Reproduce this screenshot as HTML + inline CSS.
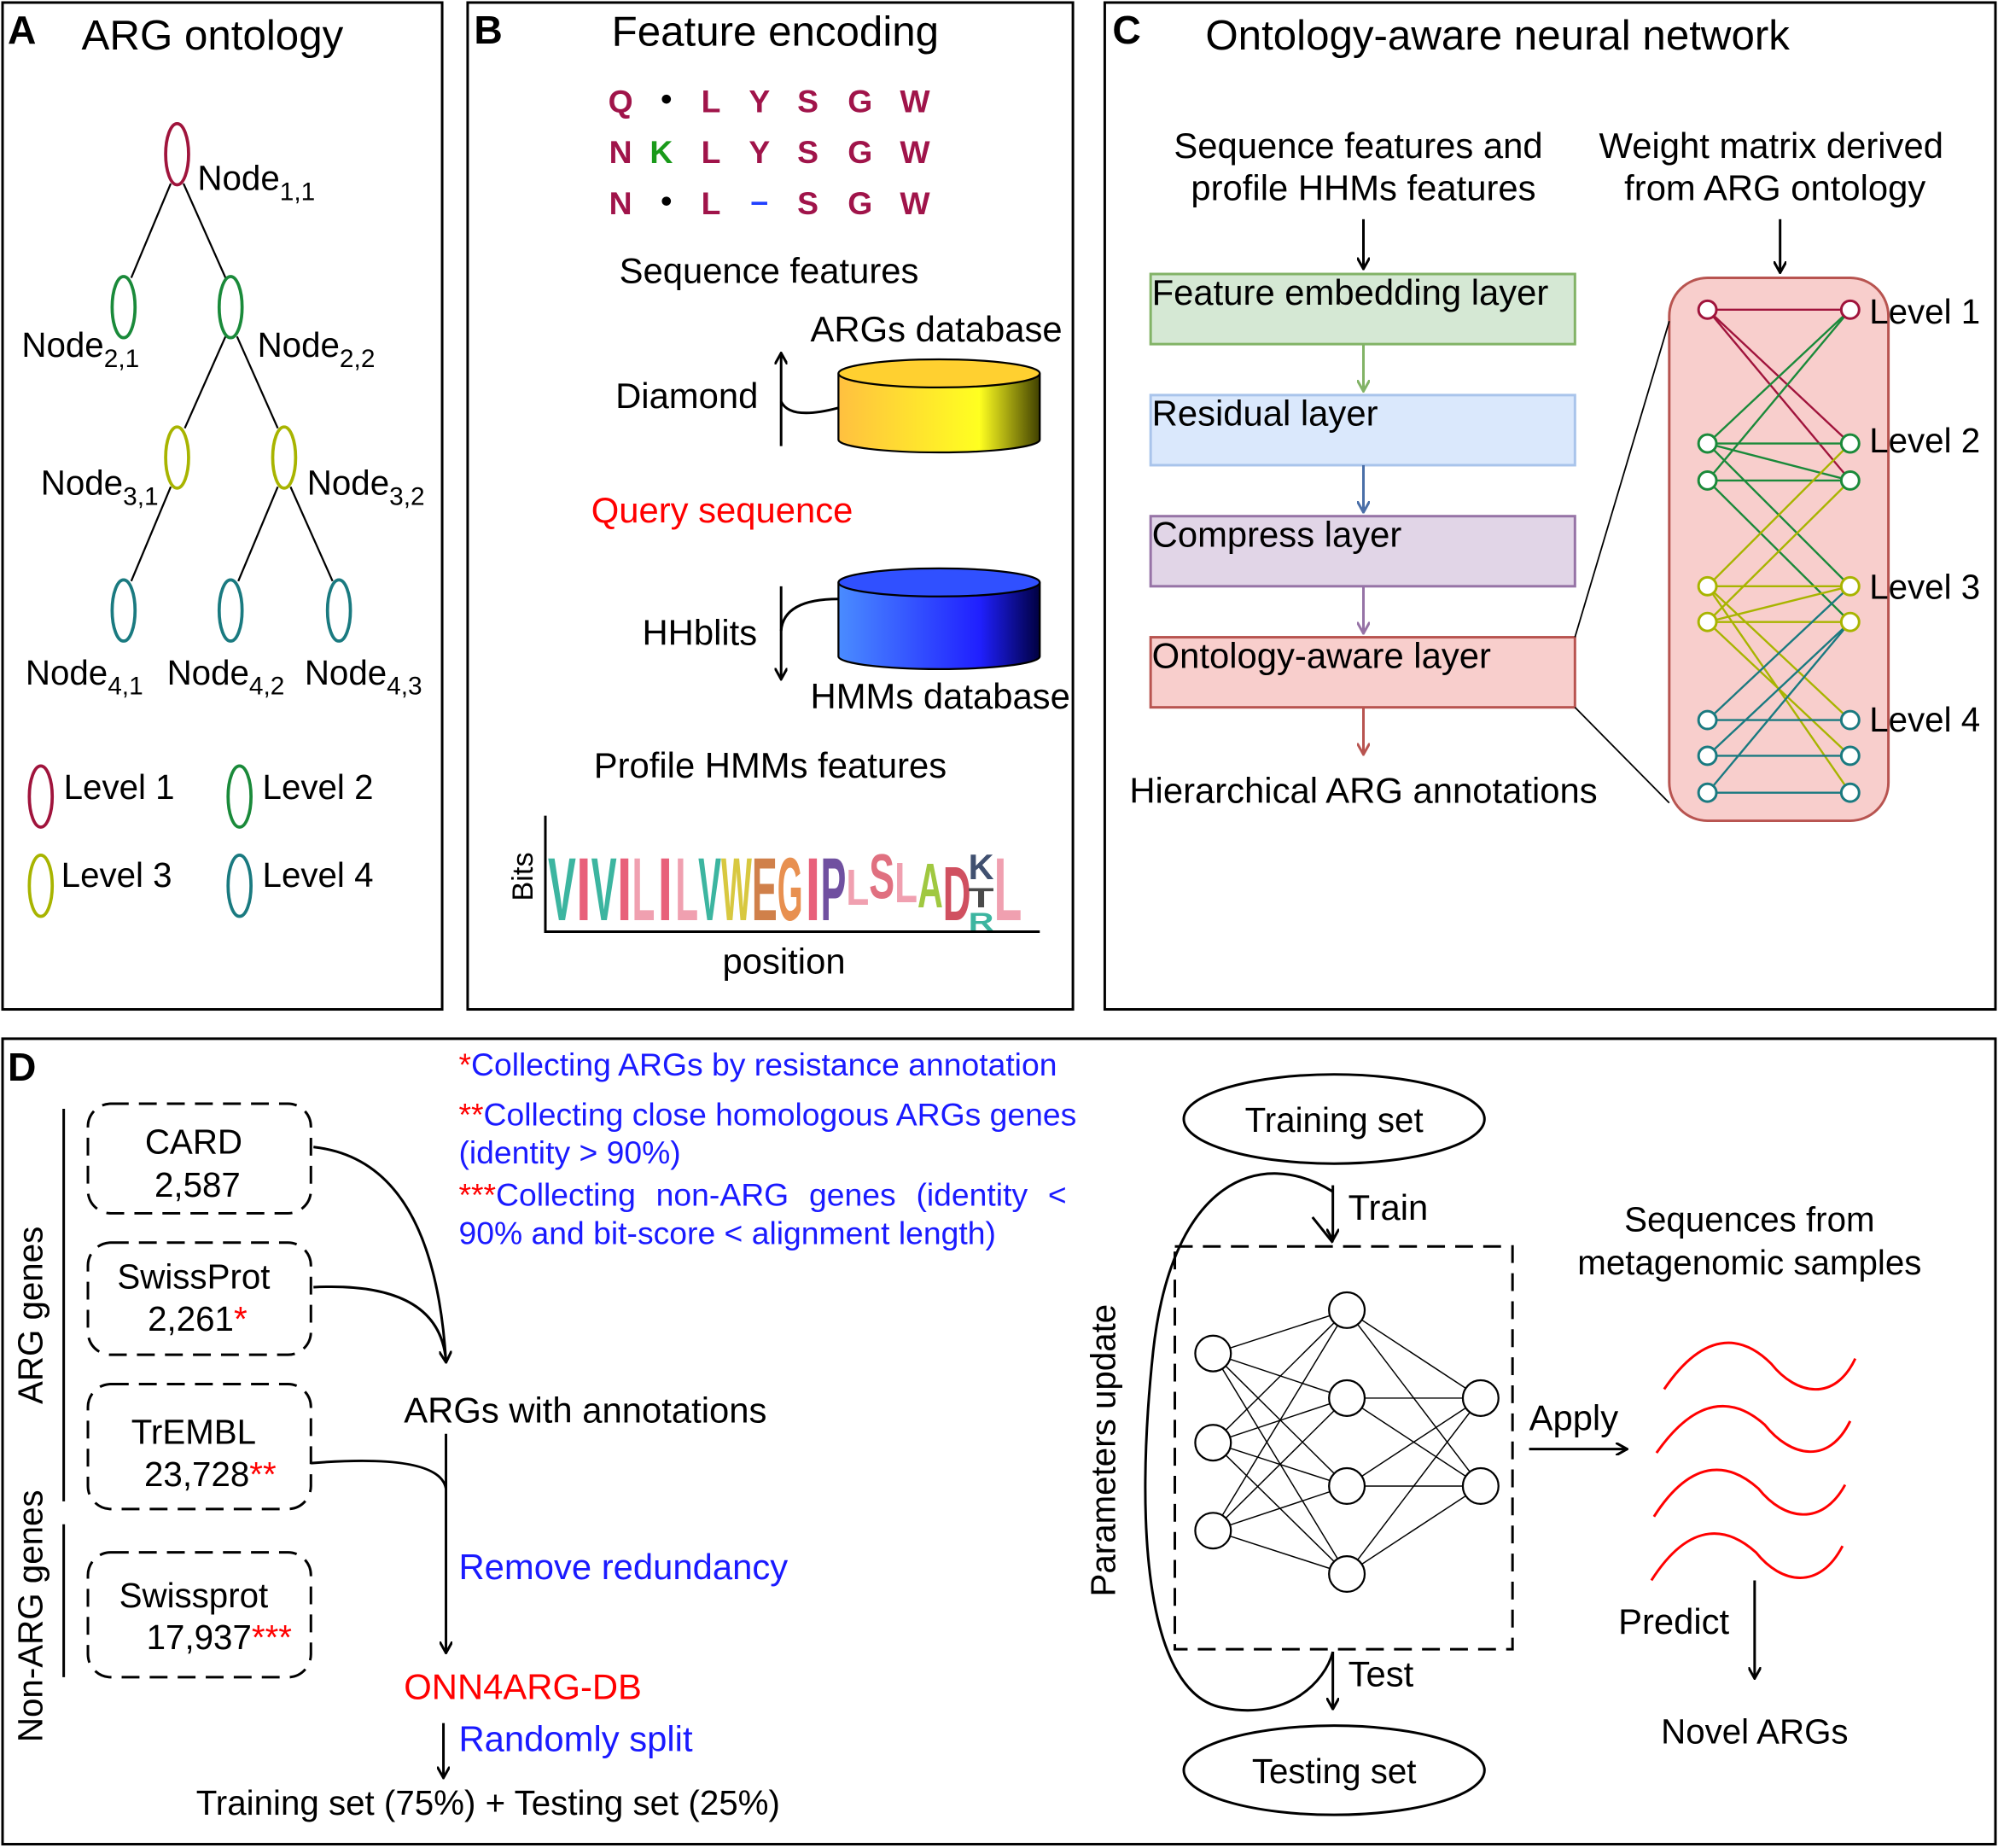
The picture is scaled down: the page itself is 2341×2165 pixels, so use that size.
<!DOCTYPE html>
<html><head><meta charset="utf-8"><style>
html,body{margin:0;padding:0;background:#fff}
svg{display:block}
text{font-family:"Liberation Sans",sans-serif}
</style></head><body>
<svg width="2341" height="2165" viewBox="0 0 1568 1450" preserveAspectRatio="none" xmlns="http://www.w3.org/2000/svg">
<defs>
<marker id="ar" markerWidth="10" markerHeight="10" refX="8" refY="5" orient="auto" markerUnits="userSpaceOnUse"><path d="M0,0 L9,5 L0,10" fill="none" stroke="#000" stroke-width="2"/></marker>
<marker id="arg" markerWidth="10" markerHeight="10" refX="8" refY="5" orient="auto" markerUnits="userSpaceOnUse"><path d="M0,0 L9,5 L0,10" fill="none" stroke="#82b366" stroke-width="2"/></marker>
<marker id="arb" markerWidth="10" markerHeight="10" refX="8" refY="5" orient="auto" markerUnits="userSpaceOnUse"><path d="M0,0 L9,5 L0,10" fill="none" stroke="#4a6fa8" stroke-width="2"/></marker>
<marker id="arp" markerWidth="10" markerHeight="10" refX="8" refY="5" orient="auto" markerUnits="userSpaceOnUse"><path d="M0,0 L9,5 L0,10" fill="none" stroke="#9673a6" stroke-width="2"/></marker>
<marker id="arr" markerWidth="10" markerHeight="10" refX="8" refY="5" orient="auto" markerUnits="userSpaceOnUse"><path d="M0,0 L9,5 L0,10" fill="none" stroke="#b85450" stroke-width="2"/></marker>
<linearGradient id="gy" x1="0" x2="1"><stop offset="0" stop-color="#ffc040"/><stop offset="0.7" stop-color="#ffff20"/><stop offset="1" stop-color="#404000"/></linearGradient>
<linearGradient id="gb" x1="0" x2="1"><stop offset="0" stop-color="#4a8cff"/><stop offset="0.7" stop-color="#2020ff"/><stop offset="1" stop-color="#000040"/></linearGradient>
</defs>
<g fill="none" stroke="#000" stroke-width="2">
<rect x="2" y="2" width="345" height="790"/>
<rect x="367" y="2" width="475" height="790"/>
<rect x="867" y="2" width="699" height="790"/>
<rect x="2" y="815" width="1564" height="632"/>
</g>
<g font-size="31" font-weight="bold"><text x="6" y="34">A</text><text x="372" y="34">B</text><text x="873" y="34">C</text><text x="6" y="848">D</text></g>
<g font-size="33"><text x="64" y="39">ARG ontology</text><text x="480" y="36">Feature encoding</text><text x="946" y="39">Ontology-aware neural network</text></g>

<!-- Panel A -->
<g stroke="#000" stroke-width="1.5">
<line x1="134" y1="144" x2="103" y2="218"/><line x1="144" y1="144" x2="177" y2="218"/>
<line x1="177" y1="264" x2="145" y2="336"/><line x1="186" y1="264" x2="218" y2="336"/>
<line x1="134" y1="382" x2="103" y2="456"/><line x1="218" y1="382" x2="187" y2="456"/><line x1="228" y1="382" x2="261" y2="456"/>
</g>
<g fill="#fff" stroke-width="2.5">
<ellipse cx="139" cy="121" rx="9" ry="24" stroke="#a0143c"/>
<ellipse cx="97" cy="241" rx="9" ry="24" stroke="#1a8a3a"/><ellipse cx="181" cy="241" rx="9" ry="24" stroke="#1a8a3a"/>
<ellipse cx="139" cy="359" rx="9" ry="24" stroke="#a8b400"/><ellipse cx="223" cy="359" rx="9" ry="24" stroke="#a8b400"/>
<ellipse cx="97" cy="479" rx="9" ry="24" stroke="#1a7a80"/><ellipse cx="181" cy="479" rx="9" ry="24" stroke="#1a7a80"/><ellipse cx="266" cy="479" rx="9" ry="24" stroke="#1a7a80"/>
<ellipse cx="32" cy="625" rx="9" ry="24" stroke="#a0143c"/><ellipse cx="188" cy="625" rx="9" ry="24" stroke="#1a8a3a"/>
<ellipse cx="32" cy="695" rx="9" ry="24" stroke="#a8b400"/><ellipse cx="188" cy="695" rx="9" ry="24" stroke="#1a7a80"/>
</g>
<g font-size="27">
<text x="155" y="149">Node<tspan font-size="20" dy="8">1,1</tspan></text>
<text x="17" y="280">Node<tspan font-size="20" dy="8">2,1</tspan></text>
<text x="202" y="280">Node<tspan font-size="20" dy="8">2,2</tspan></text>
<text x="32" y="388">Node<tspan font-size="20" dy="8">3,1</tspan></text>
<text x="241" y="388">Node<tspan font-size="20" dy="8">3,2</tspan></text>
<text x="20" y="537">Node<tspan font-size="20" dy="8">4,1</tspan></text>
<text x="131" y="537">Node<tspan font-size="20" dy="8">4,2</tspan></text>
<text x="239" y="537">Node<tspan font-size="20" dy="8">4,3</tspan></text>
<text x="50" y="627">Level 1</text><text x="206" y="627">Level 2</text>
<text x="48" y="696">Level 3</text><text x="206" y="696">Level 4</text>
</g>

<!-- Panel B -->
<g font-size="25" font-weight="bold" fill="#a0144a" text-anchor="middle">
<text x="487" y="88">Q</text><text x="523" y="86" fill="#000">•</text><text x="558" y="88">L</text><text x="596" y="88">Y</text><text x="634" y="88">S</text><text x="675" y="88">G</text><text x="718" y="88">W</text>
<text x="487" y="128">N</text><text x="519" y="128" fill="#1a9a1a">K</text><text x="558" y="128">L</text><text x="596" y="128">Y</text><text x="634" y="128">S</text><text x="675" y="128">G</text><text x="718" y="128">W</text>
<text x="487" y="168">N</text><text x="523" y="166" fill="#000">•</text><text x="558" y="168">L</text><text x="596" y="166" fill="#2040ff">–</text><text x="634" y="168">S</text><text x="675" y="168">G</text><text x="718" y="168">W</text>
</g>
<g font-size="28">
<text x="486" y="222">Sequence features</text>
<text x="636" y="268">ARGs database</text>
<text x="483" y="320">Diamond</text>
<text x="464" y="410" fill="#ff0000">Query sequence</text>
<text x="504" y="506">HHblits</text>
<text x="636" y="556">HMMs database</text>
<text x="466" y="610">Profile HMMs features</text>
<text x="567" y="764">position</text>
<text x="0" y="0" transform="translate(418,707) rotate(-90)" font-size="23">Bits</text>
</g>
<path d="M658,293 V345 A79,10 0 0 0 816,345 V293" fill="url(#gy)" stroke="#000" stroke-width="1.5"/>
<ellipse cx="737" cy="293" rx="79" ry="11" fill="#ffd030" stroke="#000" stroke-width="1.5"/>
<path d="M658,457 V515 A79,10 0 0 0 816,515 V457" fill="url(#gb)" stroke="#000" stroke-width="1.5"/>
<ellipse cx="737" cy="457" rx="79" ry="11" fill="#3050ff" stroke="#000" stroke-width="1.5"/>
<g fill="none" stroke="#000" stroke-width="2">
<line x1="613" y1="350" x2="613" y2="278" marker-end="url(#ar)"/>
<path d="M613,315 Q620,330 658,320"/>
<line x1="613" y1="460" x2="613" y2="532" marker-end="url(#ar)"/>
<path d="M613,495 Q615,470 658,470"/>
<path d="M428,640 V731 H816"/>
</g>
<g font-family="Liberation Sans" font-weight="bold" font-size="70">
<text x="430" y="722" fill="#3cb5a0" textLength="22" lengthAdjust="spacingAndGlyphs">V</text>
<text x="452" y="722" fill="#e8607a" textLength="12" lengthAdjust="spacingAndGlyphs">I</text>
<text x="464" y="722" fill="#3cb5a0" textLength="20" lengthAdjust="spacingAndGlyphs">V</text>
<text x="484" y="722" fill="#e8607a" textLength="12" lengthAdjust="spacingAndGlyphs">I</text>
<text x="496" y="722" fill="#f0a0b0" textLength="18" lengthAdjust="spacingAndGlyphs">L</text>
<text x="516" y="722" fill="#e8607a" textLength="12" lengthAdjust="spacingAndGlyphs">I</text>
<text x="530" y="722" fill="#f0a0b0" textLength="18" lengthAdjust="spacingAndGlyphs">L</text>
<text x="548" y="722" fill="#3cb5a0" textLength="18" lengthAdjust="spacingAndGlyphs">V</text>
<text x="566" y="722" fill="#d8c840" textLength="24" lengthAdjust="spacingAndGlyphs">W</text>
<text x="590" y="722" fill="#d0804a" textLength="20" lengthAdjust="spacingAndGlyphs">E</text>
<text x="610" y="722" fill="#e89050" textLength="20" lengthAdjust="spacingAndGlyphs">G</text>
<text x="632" y="722" fill="#e8607a" textLength="12" lengthAdjust="spacingAndGlyphs">I</text>
<text x="644" y="722" fill="#7050a0" textLength="20" lengthAdjust="spacingAndGlyphs">P</text>
<text x="664" y="710" fill="#f0a0b0" font-size="40" textLength="18" lengthAdjust="spacingAndGlyphs">L</text>
<text x="682" y="705" fill="#e07080" font-size="50" textLength="20" lengthAdjust="spacingAndGlyphs">S</text>
<text x="702" y="708" fill="#f0a0b0" font-size="45" textLength="18" lengthAdjust="spacingAndGlyphs">L</text>
<text x="720" y="712" fill="#a0c840" font-size="50" textLength="20" lengthAdjust="spacingAndGlyphs">A</text>
<text x="740" y="722" fill="#d05060" font-size="60" textLength="22" lengthAdjust="spacingAndGlyphs">D</text>
<text x="780" y="722" fill="#f0a0b0" textLength="22" lengthAdjust="spacingAndGlyphs">L</text>
<text x="760" y="690" fill="#405070" font-size="28" textLength="20" lengthAdjust="spacingAndGlyphs">K</text>
<text x="760" y="712" fill="#4a4a4a" font-size="22" textLength="20" lengthAdjust="spacingAndGlyphs">T</text>
<text x="760" y="730" fill="#3cb5a0" font-size="20" textLength="20" lengthAdjust="spacingAndGlyphs">R</text>
</g>

<!-- Panel C -->
<g font-size="28" text-anchor="middle">
<text x="1066" y="124">Sequence features and</text><text x="1070" y="157">profile HHMs features</text>
<text x="1390" y="124">Weight matrix derived</text><text x="1393" y="157">from ARG ontology</text>
<text x="1070" y="630">Hierarchical ARG annotations</text>
</g>
<g stroke-width="2">
<line x1="1070" y1="172" x2="1070" y2="210" stroke="#000" marker-end="url(#ar)"/>
<line x1="1397" y1="172" x2="1397" y2="213" stroke="#000" marker-end="url(#ar)"/>
<rect x="903" y="215" width="333" height="55" fill="#d5e8d4" stroke="#82b366"/>
<rect x="903" y="310" width="333" height="55" fill="#dae8fc" stroke="#a9c4eb"/>
<rect x="903" y="405" width="333" height="55" fill="#e1d5e7" stroke="#9673a6"/>
<rect x="903" y="500" width="333" height="55" fill="#f8cecc" stroke="#b85450"/>
<line x1="1070" y1="270" x2="1070" y2="306" stroke="#82b366" marker-end="url(#arg)"/>
<line x1="1070" y1="365" x2="1070" y2="401" stroke="#4a6fa8" marker-end="url(#arb)"/>
<line x1="1070" y1="460" x2="1070" y2="496" stroke="#9673a6" marker-end="url(#arp)"/>
<line x1="1070" y1="555" x2="1070" y2="591" stroke="#b85450" marker-end="url(#arr)"/>
</g>
<g font-size="28"><text x="904" y="239">Feature embedding layer</text><text x="904" y="334">Residual layer</text><text x="904" y="429">Compress layer</text><text x="904" y="524">Ontology-aware layer</text></g>
<rect x="1310" y="218" width="172" height="426" rx="30" fill="#f8cecc" stroke="#b85450" stroke-width="2"/>
<line x1="1236" y1="500" x2="1310" y2="252" stroke="#000" stroke-width="1.2"/>
<line x1="1236" y1="555" x2="1310" y2="630" stroke="#000" stroke-width="1.2"/>
<g stroke-width="1.6">
<g stroke="#a0143c"><line x1="1340" y1="243" x2="1452" y2="243"/><line x1="1340" y1="243" x2="1452" y2="348"/><line x1="1340" y1="243" x2="1452" y2="377"/></g>
<g stroke="#1a8a3a"><line x1="1340" y1="348" x2="1452" y2="243"/><line x1="1340" y1="377" x2="1452" y2="243"/><line x1="1340" y1="348" x2="1452" y2="348"/><line x1="1340" y1="377" x2="1452" y2="377"/><line x1="1340" y1="348" x2="1452" y2="460"/><line x1="1340" y1="377" x2="1452" y2="488"/><line x1="1340" y1="348" x2="1452" y2="377"/></g>
<g stroke="#a8b400"><line x1="1340" y1="460" x2="1452" y2="348"/><line x1="1340" y1="488" x2="1452" y2="377"/><line x1="1340" y1="460" x2="1452" y2="460"/><line x1="1340" y1="488" x2="1452" y2="488"/><line x1="1340" y1="460" x2="1452" y2="565"/><line x1="1340" y1="488" x2="1452" y2="593"/><line x1="1340" y1="460" x2="1452" y2="622"/><line x1="1340" y1="488" x2="1452" y2="460"/></g>
<g stroke="#1a7a80"><line x1="1340" y1="565" x2="1452" y2="460"/><line x1="1340" y1="593" x2="1452" y2="488"/><line x1="1340" y1="622" x2="1452" y2="488"/><line x1="1340" y1="565" x2="1452" y2="565"/><line x1="1340" y1="593" x2="1452" y2="593"/><line x1="1340" y1="622" x2="1452" y2="622"/></g>
</g>
<g fill="#fff" stroke-width="2">
<circle cx="1340" cy="243" r="7" stroke="#a0143c"/><circle cx="1452" cy="243" r="7" stroke="#a0143c"/>
<circle cx="1340" cy="348" r="7" stroke="#1a8a3a"/><circle cx="1452" cy="348" r="7" stroke="#1a8a3a"/><circle cx="1340" cy="377" r="7" stroke="#1a8a3a"/><circle cx="1452" cy="377" r="7" stroke="#1a8a3a"/>
<circle cx="1340" cy="460" r="7" stroke="#a8b400"/><circle cx="1452" cy="460" r="7" stroke="#a8b400"/><circle cx="1340" cy="488" r="7" stroke="#a8b400"/><circle cx="1452" cy="488" r="7" stroke="#a8b400"/>
<circle cx="1340" cy="565" r="7" stroke="#1a7a80"/><circle cx="1452" cy="565" r="7" stroke="#1a7a80"/><circle cx="1340" cy="593" r="7" stroke="#1a7a80"/><circle cx="1452" cy="593" r="7" stroke="#1a7a80"/><circle cx="1340" cy="622" r="7" stroke="#1a7a80"/><circle cx="1452" cy="622" r="7" stroke="#1a7a80"/>
</g>
<g font-size="27"><text x="1467" y="254">Level 1</text><text x="1467" y="355">Level 2</text><text x="1467" y="470">Level 3</text><text x="1467" y="574">Level 4</text></g>

<!-- Panel D -->
<g fill="none" stroke="#000" stroke-width="2" stroke-dasharray="14,8">
<rect x="69" y="866" width="175" height="86" rx="18"/>
<rect x="69" y="975" width="175" height="88" rx="18"/>
<rect x="69" y="1086" width="175" height="98" rx="18"/>
<rect x="69" y="1218" width="175" height="98" rx="18"/>
<rect x="922" y="978" width="265" height="316"/>
</g>
<g stroke="#000" stroke-width="2" fill="none">
<line x1="50" y1="870" x2="50" y2="1178"/><line x1="50" y1="1196" x2="50" y2="1316"/>
<path d="M246,900 Q340,910 350,1068" marker-end="url(#ar)"/>
<path d="M246,1010 Q345,1005 350,1068"/>
<path d="M244,1148 Q345,1140 350,1168"/>
<line x1="350" y1="1125" x2="350" y2="1296" marker-end="url(#ar)"/>
<line x1="348" y1="1352" x2="348" y2="1394" marker-end="url(#ar)"/>
<line x1="1046" y1="930" x2="1046" y2="972" marker-end="url(#ar)"/>
<path d="M1046,935 C990,900 920,925 905,1060 C890,1200 900,1330 960,1340 C1010,1350 1040,1320 1046,1296" />
<path d="M1030,955 L1046,975" />
<line x1="1046" y1="1296" x2="1046" y2="1340" marker-end="url(#ar)"/>
<line x1="1200" y1="1137" x2="1276" y2="1137" marker-end="url(#ar)"/>
<line x1="1377" y1="1240" x2="1377" y2="1316" marker-end="url(#ar)"/>
<ellipse cx="1047" cy="878" rx="118" ry="35"/>
<ellipse cx="1047" cy="1389" rx="118" ry="35"/>
</g>
<g stroke="#000" stroke-width="1">
<line x1="952" y1="1062" x2="1057" y2="1028"/><line x1="952" y1="1062" x2="1057" y2="1097"/><line x1="952" y1="1062" x2="1057" y2="1166"/><line x1="952" y1="1062" x2="1057" y2="1235"/>
<line x1="952" y1="1132" x2="1057" y2="1028"/><line x1="952" y1="1132" x2="1057" y2="1097"/><line x1="952" y1="1132" x2="1057" y2="1166"/><line x1="952" y1="1132" x2="1057" y2="1235"/>
<line x1="952" y1="1201" x2="1057" y2="1028"/><line x1="952" y1="1201" x2="1057" y2="1097"/><line x1="952" y1="1201" x2="1057" y2="1166"/><line x1="952" y1="1201" x2="1057" y2="1235"/>
<line x1="1057" y1="1028" x2="1162" y2="1097"/><line x1="1057" y1="1028" x2="1162" y2="1166"/>
<line x1="1057" y1="1097" x2="1162" y2="1097"/><line x1="1057" y1="1097" x2="1162" y2="1166"/>
<line x1="1057" y1="1166" x2="1162" y2="1097"/><line x1="1057" y1="1166" x2="1162" y2="1166"/>
<line x1="1057" y1="1235" x2="1162" y2="1097"/><line x1="1057" y1="1235" x2="1162" y2="1166"/>
</g>
<g fill="#fff" stroke="#000" stroke-width="1.5">
<circle cx="952" cy="1062" r="14"/><circle cx="952" cy="1132" r="14"/><circle cx="952" cy="1201" r="14"/>
<circle cx="1057" cy="1028" r="14"/><circle cx="1057" cy="1097" r="14"/><circle cx="1057" cy="1166" r="14"/><circle cx="1057" cy="1235" r="14"/>
<circle cx="1162" cy="1097" r="14"/><circle cx="1162" cy="1166" r="14"/>
</g>
<g fill="none" stroke="#ff0000" stroke-width="2">
<path d="M1306,1090 C1340,1040 1370,1050 1390,1070 C1410,1095 1440,1100 1456,1066"/>
<path d="M1300,1140 C1335,1090 1365,1100 1385,1118 C1405,1143 1435,1150 1452,1115"/>
<path d="M1298,1190 C1330,1140 1360,1150 1380,1168 C1400,1193 1430,1198 1448,1165"/>
<path d="M1296,1240 C1328,1190 1358,1200 1378,1218 C1398,1243 1428,1248 1446,1213"/>
</g>
<g font-size="27" text-anchor="middle">
<text x="152" y="905">CARD</text><text x="155" y="939">2,587</text>
<text x="152" y="1011">SwissProt</text><text x="155" y="1044">2,261<tspan fill="#f00">*</tspan></text>
<text x="152" y="1133">TrEMBL</text><text x="165" y="1166">23,728<tspan fill="#f00">**</tspan></text>
<text x="152" y="1261">Swissprot</text><text x="172" y="1294">17,937<tspan fill="#f00">***</tspan></text>
<text x="0" y="0" transform="translate(33,1032) rotate(-90)">ARG genes</text>
<text x="0" y="0" transform="translate(33,1268) rotate(-90)">Non-ARG genes</text>
<text x="0" y="0" transform="translate(875,1138) rotate(-90)">Parameters update</text>
<text x="1047" y="888">Training set</text>
<text x="1047" y="1399">Testing set</text>
<text x="1373" y="966">Sequences from</text><text x="1373" y="1000">metagenomic samples</text>
<text x="1377" y="1368">Novel ARGs</text>
<text x="383" y="1424">Training set (75%) + Testing set (25%)</text>
</g>
<g font-size="28">
<text x="317" y="1116">ARGs with annotations</text>
<text x="360" y="1239" fill="#1a1aff">Remove redundancy</text>
<text x="317" y="1333" fill="#ff0000">ONN4ARG-DB</text>
<text x="360" y="1374" fill="#1a1aff">Randomly split</text>
<text x="1058" y="957">Train</text>
<text x="1058" y="1323">Test</text>
<text x="1200" y="1122">Apply</text>
<text x="1270" y="1282">Predict</text>
</g>
<g font-size="25" fill="#1a1aff">
<text x="360" y="844"><tspan fill="#f00">*</tspan>Collecting ARGs by resistance annotation</text>
<text x="360" y="883"><tspan fill="#f00">**</tspan>Collecting close homologous ARGs genes</text>
<text x="360" y="913">(identity &gt; 90%)</text>
<text x="360" y="946" word-spacing="9"><tspan fill="#f00">***</tspan>Collecting non-ARG genes (identity &lt;</text>
<text x="360" y="976">90% and bit-score &lt; alignment length)</text>
</g>
</svg>
</body></html>
